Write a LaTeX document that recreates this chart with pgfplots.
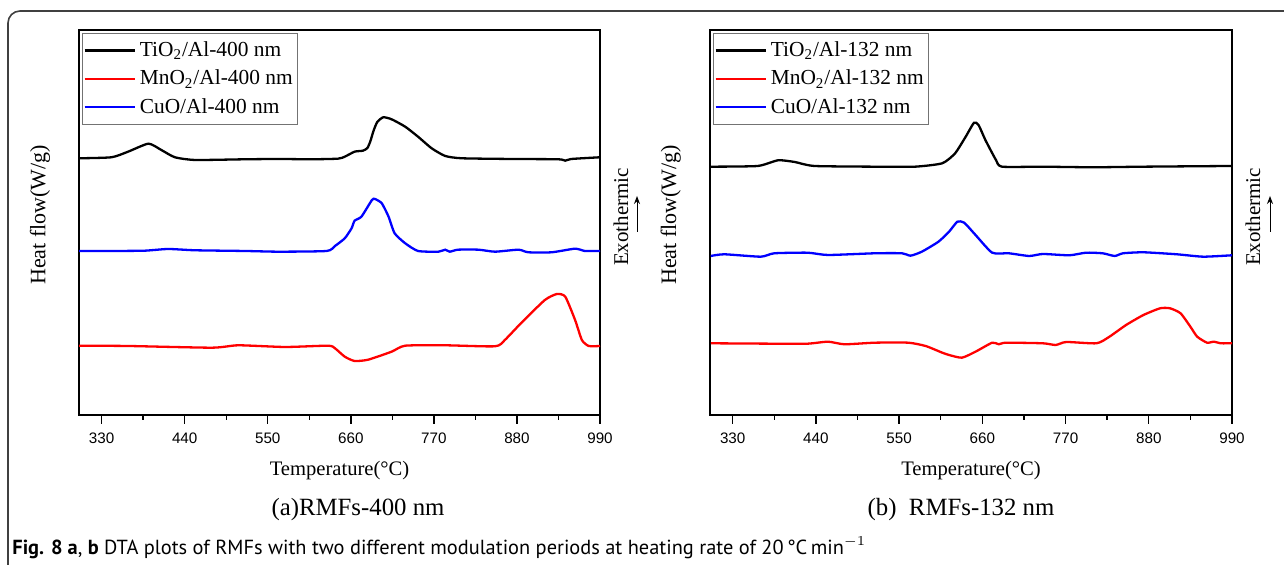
\documentclass[border=0pt]{standalone}
\usepackage{fontspec}
\setmainfont{Liberation Serif}
\newfontfamily\arial{Liberation Sans}
\newfontfamily\capfont{PT Sans}
\usepackage{graphicx}
\usepackage{pgfplots}
\pgfplotsset{compat=1.18}
\usetikzlibrary{arrows.meta}

\pgfplotsset{dtastyle/.style={
  scale only axis, width=260.5pt, height=192.5pt,
  xmin=300, xmax=990, ymin=0, ymax=385,
  xtick={330,440,550,660,770,880,990},
  minor xtick={385,495,605,715,825,935},
  ytick=\empty, xtick pos=left, tick align=outside,
  major tick length=4.5pt, minor tick length=2.5pt,
  tick style={black, line width=0.7pt},
  axis line style={line width=0.9pt},
  /pgf/number format/assume math mode=true,
  xticklabel style={font=\arial\fontsize{7.6}{9}\selectfont, yshift=-1pt},
  xlabel={Temperature(°C)}, ylabel={Heat flow(W/g)},
  every axis x label/.style={at={(axis description cs:0.5,-0.143)}, anchor=center, font=\fontsize{10.3}{12}\selectfont},
  every axis y label/.style={at={(axis description cs:-0.075,0.52)}, rotate=90, anchor=center, font=\fontsize{11}{12}\selectfont},
  legend style={at={(axis description cs:0,1)}, anchor=north west, xshift=1.5pt, yshift=-1.5pt, draw=black!55, line width=0.5pt, font=\fontsize{10.7}{12}\selectfont, inner xsep=0.5pt, inner ysep=2pt, row sep=1.3pt},
  legend cell align=left,
  legend image code/.code={\draw[#1] (0pt,0pt) -- (25pt,0pt);},
  every axis plot/.append style={line width=1.15pt, smooth, tension=0.35},
}}

\pgfplotstableread{
T v
300 256.7
343 257.7
365 263.3
392 271.3
409 265
427 257.7
454 255
520 255.7
564 256
608 255.7
643 256.3
652 258.3
665 263.3
676 264.3
682 267
686 274
690 284
695 293
703 297.7
714 295.7
732 288.3
749 278.3
767 266.7
785 259
807 256.7
873 256
935 255.7
944 254.3
952 256
990 257.7
}\leftTi

\pgfplotstableread{
T v
300 164
343 164
387 164.3
418 166
454 164.7
520 164
564 163.3
628 164
639 169
652 176.7
661 186.7
665 194.3
674 198.3
688 215
692 216
701 211.7
710 198.3
718 181.7
732 171.7
749 164
776 163.3
785 165.3
791 163.3
802 165.3
829 165.3
851 163.3
882 165.3
895 162.7
926 162.7
957 166.3
970 164
990 164
}\leftCu

\pgfplotstableread{
T v
300 69.3
365 69
476 67.3
511 69.7
573 68
630 69.3
639 66.7
652 58.3
665 54
683 55.3
714 63.3
732 69.3
785 69.7
851 68.7
864 75
886 92.3
917 115
933 121
944 118.3
957 95
966 75
975 69
990 69
}\leftMn

\pgfplotstableread{
T v
301 248.3
363 249
390 254.7
412 253
438 249
518 248.3
571 248.3
607 251.7
624 261.7
638 278.3
649 292.3
655 290
664 275
678 255
686 248.3
740 248.3
806 247.7
873 248.3
990 249
}\rightTi

\pgfplotstableread{
T v
301 159
319 160.7
367 158.3
385 161.7
429 162.3
456 160
518 161.7
554 161.7
565 159.3
580 163.3
602 173.3
616 183.3
627 193.3
636 192.3
651 180
673 162.3
695 161.7
722 159
740 161
775 159.7
797 162.3
819 161.7
835 159
846 161.7
873 162.7
917 160.7
952 158.3
990 159.7
}\rightCu

\pgfplotstableread{
T v
301 71.7
385 71.3
429 71.3
456 73.3
478 70.7
518 72.3
562 72.3
585 69
607 62.3
616 60
633 57.3
651 63.3
673 72.3
682 70.7
691 72.3
740 71.7
757 70
771 73
811 71.7
828 78.3
850 90
873 100
895 106.7
908 106.7
922 101.7
935 88.3
944 78.3
957 72.3
966 73.3
975 71.7
990 71.7
}\rightMn

\begin{document}
\begin{tikzpicture}
\useasboundingbox (0,0) rectangle (642pt,282.5pt);
\draw[black!75, line width=0.8pt, rounded corners=6pt] (4pt,-20pt) -- (4pt,277pt) -- (700pt,277pt);

\begin{axis}[dtastyle, at={(39.5pt,75pt)}, anchor=south west]
\addplot[black] table[x=T,y=v] {\leftTi};
\addlegendentry{TiO\textsubscript{2}/Al-400 nm}
\addplot[red] table[x=T,y=v] {\leftMn};
\addlegendentry{MnO\textsubscript{2}/Al-400 nm}
\addplot[blue] table[x=T,y=v] {\leftCu};
\addlegendentry{CuO/Al-400 nm}
\end{axis}

\begin{axis}[dtastyle, at={(355pt,75pt)}, anchor=south west, width=261pt]
\addplot[black] table[x=T,y=v] {\rightTi};
\addlegendentry{TiO\textsubscript{2}/Al-132 nm}
\addplot[red] table[x=T,y=v] {\rightMn};
\addlegendentry{MnO\textsubscript{2}/Al-132 nm}
\addplot[blue] table[x=T,y=v] {\rightCu};
\addlegendentry{CuO/Al-132 nm}
\end{axis}

\node[rotate=90, font=\fontsize{10.5}{12}\selectfont] at (310.5pt,174pt) {Exothermic};
\draw[-{Stealth[length=4pt,width=3pt]}, line width=0.5pt] (318.5pt,166.5pt) -- (318.5pt,184.5pt);
\node[rotate=90, font=\fontsize{10.5}{12}\selectfont] at (626.5pt,174pt) {Exothermic};
\draw[-{Stealth[length=4pt,width=3pt]}, line width=0.5pt] (635pt,166.5pt) -- (635pt,184.5pt);

\node[font=\fontsize{12.4}{14}\selectfont] at (179pt,27.5pt) {(a)RMFs-400 nm};
\node[font=\fontsize{12.4}{14}\selectfont] at (480.5pt,27.5pt) {(b)\ \ RMFs-132 nm};

\node[anchor=west, inner sep=0pt] at (6pt,8.5pt) {\resizebox{427pt}{!}{\capfont\fontsize{9}{11}\selectfont\textbf{Fig. 8 a}, \textbf{b} DTA plots of RMFs with two different modulation periods at heating rate of 20\,°C\,min$^{-1}$}};
\end{tikzpicture}
\end{document}
